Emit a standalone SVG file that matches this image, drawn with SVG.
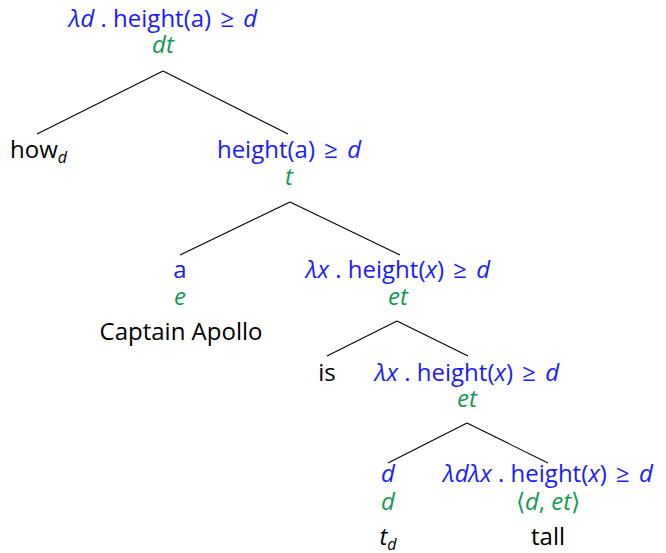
<svg xmlns="http://www.w3.org/2000/svg" width="666" height="553" viewBox="0 0 666 553">
<style>
text{font-family:"Open Sans","Liberation Sans",sans-serif;font-size:24px;text-anchor:middle}
.b{fill:#1a1aff}
.g{fill:#139a52;font-style:italic}
.k{fill:#000}
.i{font-style:italic}
.s{font-size:16px;font-style:italic}
line{stroke:#000;stroke-width:1.1}
</style>
<rect width="666" height="553" fill="#fff"/>
<g id="edges">
<line x1="163" y1="71" x2="37" y2="134"/>
<line x1="163" y1="71" x2="288" y2="134"/>
<line x1="290" y1="202" x2="180" y2="255"/>
<line x1="290" y1="202" x2="400" y2="255"/>
<line x1="397" y1="321" x2="327" y2="356"/>
<line x1="397" y1="321" x2="468" y2="356"/>
<line x1="467" y1="423" x2="388" y2="463"/>
<line x1="467" y1="423" x2="548" y2="463"/>
</g>
<g id="root">
<text x="163" y="27" class="b"><tspan class="i">λd</tspan> . height(a) <tspan dx="3">≥</tspan> <tspan class="i" dx="3">d</tspan></text>
<text x="163" y="53" class="g">dt</text>
</g>
<g id="how">
<text x="10" y="158" class="k" style="text-anchor:start">how<tspan class="s" dy="5">d</tspan></text>
</g>
<g id="n1">
<text x="289" y="158" class="b">height(a) <tspan dx="3">≥</tspan> <tspan class="i" dx="3">d</tspan></text>
<text x="289" y="185" class="g">t</text>
</g>
<g id="a">
<text x="180" y="278" class="b">a</text>
<text x="180" y="305" class="g">e</text>
<text x="181" y="340" class="k">Captain Apollo</text>
</g>
<g id="n2">
<text x="398" y="278" class="b"><tspan class="i">λx</tspan> . height(<tspan class="i">x</tspan>) <tspan dx="3">≥</tspan> <tspan class="i" dx="3">d</tspan></text>
<text x="398" y="305" class="g">et</text>
</g>
<g id="is">
<text x="327" y="381" class="k">is</text>
</g>
<g id="n3">
<text x="467" y="381" class="b"><tspan class="i">λx</tspan> . height(<tspan class="i">x</tspan>) <tspan dx="3">≥</tspan> <tspan class="i" dx="3">d</tspan></text>
<text x="467" y="407" class="g">et</text>
</g>
<g id="trace">
<text x="388" y="482" class="b i">d</text>
<text x="388" y="510" class="g">d</text>
<text x="388" y="545" class="k"><tspan class="i">t</tspan><tspan class="s" dy="5">d</tspan></text>
</g>
<g id="tall">
<text x="548" y="482" class="b"><tspan class="i">λdλx</tspan> . height(<tspan class="i">x</tspan>) <tspan dx="3">≥</tspan> <tspan class="i" dx="3">d</tspan></text>
<text x="548" y="510" class="g" style="font-style:normal">⟨<tspan class="i">d</tspan>, <tspan class="i">et</tspan>⟩</text>
<text x="548" y="545" class="k">tall</text>
</g>
</svg>
